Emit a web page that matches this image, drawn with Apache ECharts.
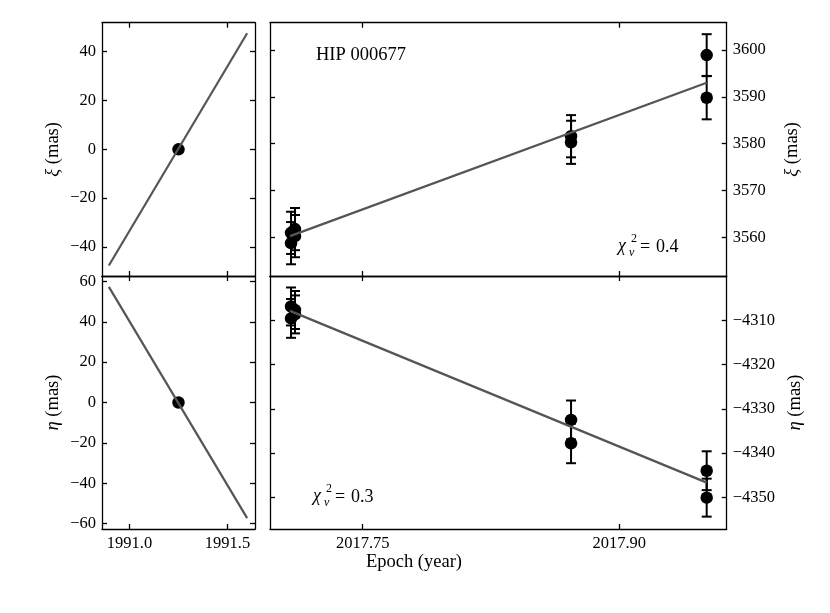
<!DOCTYPE html>
<html>
<head>
<meta charset="utf-8">
<title>HIP 000677</title>
<script src="https://cdn.jsdelivr.net/npm/echarts@6/dist/echarts.min.js"></script>
<style>
  html, body { margin: 0; padding: 0; background: #fff; }
  #main { width: 830px; height: 613px; }
</style>
</head>
<body>
<div id="main"></div>
<script>
// Hipparcos epoch (left panels)
var hipEpoch = [1991.25];
var hipXi = [0];
var hipEta = [0];
var hipFitEpoch = [1990.895, 1991.6];
var hipFitXi = [-47.6, 47.6];
var hipFitEta = [57.3, -57.3];

// Gaia epochs (right panels)
var gaiaEpoch = [2017.7081, 2017.7104, 2017.7081, 2017.7104, 2017.8718, 2017.8718, 2017.9511, 2017.9511];
var gaiaXi    = [3561.0, 3561.8, 3558.8, 3560.3, 3581.6, 3580.3, 3598.9, 3589.8];
var gaiaXiErr = [4.5, 4.5, 4.5, 4.5, 4.5, 4.6, 4.45, 4.6];
var gaiaEta    = [-4306.8, -4307.6, -4309.5, -4308.6, -4332.5, -4337.8, -4344.0, -4350.1];
var gaiaEtaErr = [4.3, 4.3, 4.4, 4.3, 4.4, 4.5, 4.4, 4.3];
var fitEpoch = [2017.7075, 2017.9511];
var fitXi  = [3560.3, 3593.0];
var fitEta = [-4307.8, -4346.7];

// tick labels
var hipYearTicks = [1991.0, 1991.5];
var gaiaYearTicks = [2017.75, 2017.90];
var hipXiTicks = [-40, -20, 0, 20, 40];
var hipEtaTicks = [-60, -40, -20, 0, 20, 40, 60];
var gaiaXiTicks = [3560, 3570, 3580, 3590, 3600];
var gaiaEtaTicks = [-4350, -4340, -4330, -4320, -4310];

var FONT = 'Liberation Serif';

function fmt(d) {
    return function (v) { return v.toFixed(d).replace('-', '\u2212'); };
}

function axis(pos, gridIndex, min, max, ticks, showLabel, digits) {
    return {
        type: 'value', gridIndex: gridIndex, position: pos,
        min: min, max: max,
        axisLine: { show: true, onZero: false, lineStyle: { color: '#000', width: 1.3 } },
        axisTick: { show: true, inside: true, length: 5, customValues: ticks,
                    lineStyle: { color: '#000', width: 1.3 } },
        axisLabel: { show: showLabel, customValues: ticks, formatter: fmt(digits),
                     fontFamily: FONT, fontSize: 16.5, color: '#000', margin: 6 },
        splitLine: { show: false }
    };
}

function yName(sym, gap) {
    return {
        name: '{i|' + sym + '} (mas)', nameLocation: 'middle', nameRotate: 90, nameGap: gap,
        nameTextStyle: { fontFamily: FONT, fontSize: 18.5, color: '#000',
                         rich: { i: { fontFamily: FONT, fontStyle: 'italic', fontSize: 18.5, color: '#000' } } }
    };
}

function pairs(xs, ys) {
    return xs.map(function (x, i) { return [x, ys[i]]; });
}

function errorBars(xs, ys, es, xi, yi) {
    return {
        type: 'custom', xAxisIndex: xi, yAxisIndex: yi, z: 3,
        encode: { x: 0, y: [1, 2] },
        data: xs.map(function (x, i) { return [x, ys[i] - es[i], ys[i] + es[i]]; }),
        renderItem: function (params, api) {
            var lo = api.coord([api.value(0), api.value(1)]);
            var hi = api.coord([api.value(0), api.value(2)]);
            var w = 5;
            var st = { stroke: '#000', lineWidth: 2 };
            return { type: 'group', children: [
                { type: 'line', shape: { x1: lo[0], y1: lo[1], x2: hi[0], y2: hi[1] }, style: st },
                { type: 'line', shape: { x1: lo[0] - w, y1: lo[1], x2: lo[0] + w, y2: lo[1] }, style: st },
                { type: 'line', shape: { x1: hi[0] - w, y1: hi[1], x2: hi[0] + w, y2: hi[1] }, style: st }
            ] };
        }
    };
}

function points(xs, ys, xi, yi) {
    return { type: 'scatter', xAxisIndex: xi, yAxisIndex: yi, z: 4,
             symbol: 'circle', symbolSize: 12.5, itemStyle: { color: '#000', opacity: 1 },
             data: pairs(xs, ys) };
}

function fit(xs, ys, xi, yi) {
    return { type: 'line', xAxisIndex: xi, yAxisIndex: yi, z: 5,
             showSymbol: false, lineStyle: { color: '#555', width: 2.2 },
             data: pairs(xs, ys) };
}

function chiText(x, y, val) {
    return [
        { type: 'text', x: x, y: y - 1, style: { text: '\u03c7', fontFamily: FONT, fontStyle: 'italic',
          fontSize: 18, fill: '#000', verticalAlign: 'middle' } },
        { type: 'text', x: x + 13, y: y - 8, style: { text: '2', fontFamily: FONT,
          fontSize: 12, fill: '#000', verticalAlign: 'middle' } },
        { type: 'text', x: x + 11, y: y + 6, style: { text: '\u03bd', fontFamily: FONT, fontStyle: 'italic',
          fontSize: 12, fill: '#000', verticalAlign: 'middle' } },
        { type: 'text', x: x + 22, y: y, style: { text: '=', fontFamily: FONT,
          fontSize: 18, fill: '#000', verticalAlign: 'middle' } },
        { type: 'text', x: x + 38, y: y, style: { text: val, fontFamily: FONT,
          fontSize: 18, fill: '#000', verticalAlign: 'middle' } }
    ];
}

var hipXMin = 1990.86, hipXMax = 1991.64;
var gaiaXMin = 2017.6958, gaiaXMax = 2017.9628;

var xAxes = [
    axis('bottom', 0, hipXMin, hipXMax, hipYearTicks, false, 1),
    axis('top', 0, hipXMin, hipXMax, hipYearTicks, false, 1),
    axis('bottom', 1, gaiaXMin, gaiaXMax, gaiaYearTicks, false, 2),
    axis('top', 1, gaiaXMin, gaiaXMax, gaiaYearTicks, false, 2),
    axis('bottom', 2, hipXMin, hipXMax, hipYearTicks, true, 1),
    axis('top', 2, hipXMin, hipXMax, hipYearTicks, false, 1),
    axis('bottom', 3, gaiaXMin, gaiaXMax, gaiaYearTicks, true, 2),
    axis('top', 3, gaiaXMin, gaiaXMax, gaiaYearTicks, false, 2)
];

var yAxes = [
    Object.assign(axis('left', 0, -51.9, 51.9, hipXiTicks, true, 0), yName('\u03be', 39)),
    axis('right', 0, -51.9, 51.9, hipXiTicks, false, 0),
    axis('left', 1, 3551.8, 3605.8, gaiaXiTicks, false, 0),
    Object.assign(axis('right', 1, 3551.8, 3605.8, gaiaXiTicks, true, 0), yName('\u03be', 56)),
    Object.assign(axis('left', 2, -62.7, 62.7, hipEtaTicks, true, 0), yName('\u03b7', 39)),
    axis('right', 2, -62.7, 62.7, hipEtaTicks, false, 0),
    axis('left', 3, -4357.2, -4299.9, gaiaEtaTicks, false, 0),
    Object.assign(axis('right', 3, -4357.2, -4299.9, gaiaEtaTicks, true, 0), yName('\u03b7', 56))
];

var option = {
    backgroundColor: '#fff',
    animation: false,
    grid: [
        { left: 102, top: 22.7, width: 153, height: 253.3 },
        { left: 270, top: 22.7, width: 456.7, height: 253.3 },
        { left: 102, top: 276, width: 153, height: 253 },
        { left: 270, top: 276, width: 456.7, height: 253 }
    ],
    xAxis: xAxes,
    yAxis: yAxes,
    series: [
        fit(hipFitEpoch, hipFitXi, 0, 0),
        points(hipEpoch, hipXi, 0, 0),
        errorBars(gaiaEpoch, gaiaXi, gaiaXiErr, 2, 3),
        points(gaiaEpoch, gaiaXi, 2, 3),
        fit(fitEpoch, fitXi, 2, 3),
        fit(hipFitEpoch, hipFitEta, 4, 4),
        points(hipEpoch, hipEta, 4, 4),
        errorBars(gaiaEpoch, gaiaEta, gaiaEtaErr, 6, 7),
        points(gaiaEpoch, gaiaEta, 6, 7),
        fit(fitEpoch, fitEta, 6, 7)
    ],
    graphic: [
        { type: 'text', x: 316, y: 55, style: { text: 'HIP 000677', fontFamily: FONT, fontSize: 18.5,
          fill: '#000', verticalAlign: 'middle' } },
        { type: 'text', x: 414, y: 562, style: { text: 'Epoch (year)', fontFamily: FONT, fontSize: 18.5,
          fill: '#000', align: 'center', verticalAlign: 'middle' } }
    ].concat(chiText(618, 247, '0.4')).concat(chiText(313, 497, '0.3'))
};

var chart = echarts.init(document.getElementById('main'));
chart.setOption(option);
</script>
</body>
</html>
